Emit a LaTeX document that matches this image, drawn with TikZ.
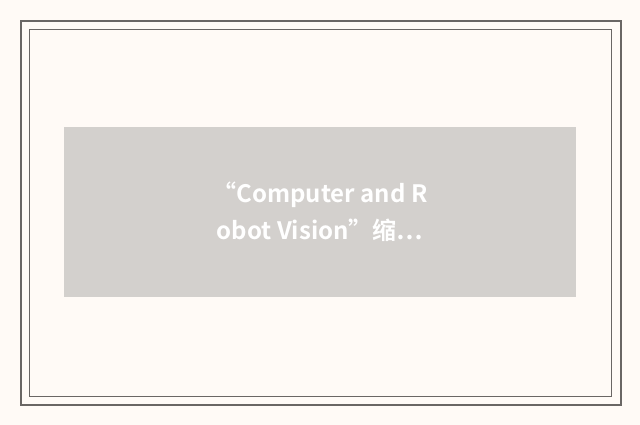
\documentclass[tikz,border=0pt]{standalone}
\usepackage{fontspec}
\usepackage{xcolor}
\newfontfamily\cjk{Noto Sans CJK SC}[BoldFont={* Bold}]
\definecolor{paper}{HTML}{FFFAF6}
\definecolor{frame}{HTML}{6A6664}
\definecolor{panel}{HTML}{D3D0CD}

\begin{document}
\begin{tikzpicture}[x=1pt,y=-1pt]
\useasboundingbox[fill=paper] (0,0) rectangle (640,425);
% frame
\draw[frame,line width=2pt] (21,21) rectangle (621,405);
\draw[frame,line width=1pt] (29.5,29.5) rectangle (611,396);
% panel
\fill[panel] (64,127) rectangle (576,297);
\node[text=white,align=center,font=\cjk\bfseries\fontsize{24}{37.4}\selectfont]
      (title) at (320,212) {“Computer and R\\obot Vision”缩…};
\end{tikzpicture}
\end{document}
